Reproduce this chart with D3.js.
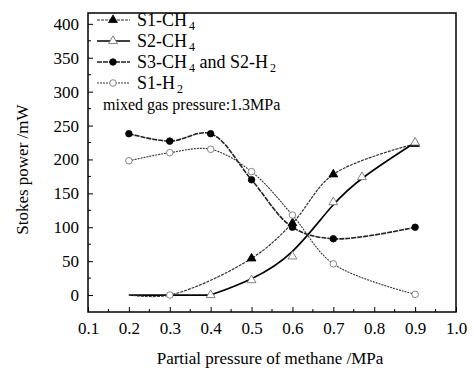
<!DOCTYPE html>
<html>
<head>
<meta charset="utf-8">
<script src="https://cdn.jsdelivr.net/npm/d3@7"></script>
<style>
  body { margin: 0; background: #fff; }
  svg text { font-family: "Liberation Serif", "Times New Roman", serif; fill: #000; }
</style>
</head>
<body>
<svg id="chart" width="473" height="372"></svg>
<script>
// partial pressure of methane (MPa) and Stokes power (mW)
var s1ch4X = [0.2, 0.3, 0.5, 0.6, 0.7, 0.9];
var s1ch4Y = [0, 0, 54, 106, 178, 223];
var s2ch4X = [0.4, 0.5, 0.6, 0.7, 0.77, 0.9];
var s2ch4Y = [0, 22, 57, 137, 174, 225];
var s3ch4X = [0.2, 0.3, 0.4, 0.5, 0.6, 0.7, 0.9];
var s3ch4Y = [238, 227, 238, 170, 100, 83, 100];
var s1h2X = [0.2, 0.3, 0.4, 0.5, 0.6, 0.7, 0.9];
var s1h2Y = [198, 210, 215, 182, 118, 46, 1];
// extra point at zero drawn as an open circle
var zeroX = [0.3];
var zeroY = [0];

var xTicks = [0.1, 0.2, 0.3, 0.4, 0.5, 0.6, 0.7, 0.8, 0.9, 1.0];
var yTicks = [0, 50, 100, 150, 200, 250, 300, 350, 400];
var legendNames = [["S1-CH", "4", ""], ["S2-CH", "4", ""], ["S3-CH", "4", " and S2-H", "2"], ["S1-H", "2", ""]];

var svg = d3.select("#chart");
var pLeft = 88, pRight = 456, pTop = 13, pBottom = 312;

var x = d3.scaleLinear().domain([0.1, 1.0]).range([pLeft, pRight]);
var y = d3.scaleLinear().domain([-25, 416]).range([pBottom, pTop]);

function pts(xs, ys) { return xs.map(function(v, i) { return [v, ys[i]]; }); }

// frame
svg.append("rect").attr("x", pLeft).attr("y", pTop).attr("width", pRight - pLeft).attr("height", pBottom - pTop)
  .style("fill", "none").style("stroke", "#000").style("stroke-width", 1.5);

// axes (ticks inward)
var xAxis = d3.axisBottom(x).tickValues(xTicks).tickFormat(d3.format(".1f")).tickSize(-5).tickPadding(10);
var gx = svg.append("g").attr("transform", "translate(0," + pBottom + ")").call(xAxis);
gx.select(".domain").remove();
gx.selectAll("text").style("font-size", "17px").attr("dy", "0.71em");
gx.selectAll("line").style("stroke", "#000");
var xMinor = d3.range(0.15, 1.0, 0.1);
gx.selectAll(".minor").data(xMinor).enter().append("line").attr("class", "minor")
  .attr("x1", function(d) { return x(d); }).attr("x2", function(d) { return x(d); })
  .attr("y1", 0).attr("y2", -3).style("stroke", "#000");

var yAxis = d3.axisLeft(y).tickValues(yTicks).tickSize(-5).tickPadding(9);
var gy = svg.append("g").attr("transform", "translate(" + pLeft + ",0)").call(yAxis);
gy.select(".domain").remove();
gy.selectAll("text").style("font-size", "17px");
gy.selectAll("line").style("stroke", "#000");
var yMinor = d3.range(25, 416, 50);
gy.selectAll(".minor").data(yMinor).enter().append("line").attr("class", "minor")
  .attr("y1", function(d) { return y(d); }).attr("y2", function(d) { return y(d); })
  .attr("x1", 0).attr("x2", 3).style("stroke", "#000");

// axis titles
svg.append("text").attr("x", (pLeft + pRight) / 2 - 2).attr("y", 364).attr("text-anchor", "middle")
  .style("font-size", "17px").text("Partial pressure of methane /MPa");
svg.append("text").attr("transform", "translate(28," + y(185) + ") rotate(-90)").attr("text-anchor", "middle")
  .style("font-size", "17px").text("Stokes power /mW");

// lines
var cr = d3.line().x(function(d) { return x(d[0]); }).y(function(d) { return y(d[1]); }).curve(d3.curveCatmullRom.alpha(0.5));
var bs = d3.line().x(function(d) { return x(d[0]); }).y(function(d) { return y(d[1]); }).curve(d3.curveBasis);

var series = [
  { data: pts(s1ch4X, s1ch4Y), line: cr, stroke: "#333", width: 1.2, dash: "3,1", marker: "tri", fill: "#000" },
  { data: pts(s2ch4X, s2ch4Y), line: bs, stroke: "#000", width: 1.6, dash: null, marker: "tri", fill: "#fff" },
  { data: pts(s3ch4X, s3ch4Y), line: cr, stroke: "#222", width: 1.6, dash: "5,1", marker: "circ", fill: "#000" },
  { data: pts(s1h2X, s1h2Y), line: cr, stroke: "#333", width: 1.1, dash: "2,1", marker: "circ", fill: "#fff" }
];

// line from 0.2 to 0.4 at zero (overlapping baselines)
svg.append("path").datum(pts([0.2, 0.3, 0.4], [0, 0, 0])).attr("d", cr)
  .style("fill", "none").style("stroke", "#000").style("stroke-width", 1.8);

series.forEach(function(s) {
  svg.append("path").datum(s.data).attr("d", s.line)
    .style("fill", "none").style("stroke", s.stroke).style("stroke-width", s.width)
    .style("stroke-dasharray", s.dash);
});

var triSym = d3.symbol().type(d3.symbolTriangle).size(34);
var cirSym = d3.symbol().type(d3.symbolCircle).size(34);

function drawMarkers(g, data, s) {
  g.selectAll(null).data(data).enter().append("path")
    .attr("transform", function(d) { return "translate(" + x(d[0]) + "," + y(d[1]) + ")"; })
    .attr("d", s.marker === "tri" ? triSym : cirSym)
    .style("fill", s.fill).style("stroke", s.fill === "#fff" ? "#666" : "#000").style("stroke-width", 0.8);
}
series.forEach(function(s) {
  var data = s.data;
  if (s.marker === "tri" && s.fill === "#000") data = data.filter(function(d) { return d[0] > 0.3; });
  drawMarkers(svg.append("g"), data, s);
});
drawMarkers(svg.append("g"), pts(zeroX, zeroY), { marker: "circ", fill: "#fff" });

// legend
var leg = svg.append("g");
legendNames.forEach(function(n, i) {
  var s = series[i];
  var ly = 20 + i * 21;
  leg.append("line").attr("x1", 97).attr("x2", 130).attr("y1", ly).attr("y2", ly)
    .style("stroke", s.stroke).style("stroke-width", s.width).style("stroke-dasharray", s.dash);
  drawMarkers(leg, [[x.invert(113), y.invert(ly)]], s);
  var t = leg.append("text").attr("x", 137).attr("y", ly + 6).style("font-size", "18px");
  t.append("tspan").text(n[0]);
  t.append("tspan").attr("dy", 4).attr("dx", 2).style("font-size", "12px").text(n[1]);
  if (n.length > 3) {
    t.append("tspan").attr("dy", -4).text(n[2]);
    t.append("tspan").attr("dy", 4).attr("dx", 2).style("font-size", "12px").text(n[3]);
  }
});
leg.append("text").attr("x", 103).attr("y", 110).style("font-size", "16px").text("mixed gas pressure:1.3MPa");
</script>
</body>
</html>
